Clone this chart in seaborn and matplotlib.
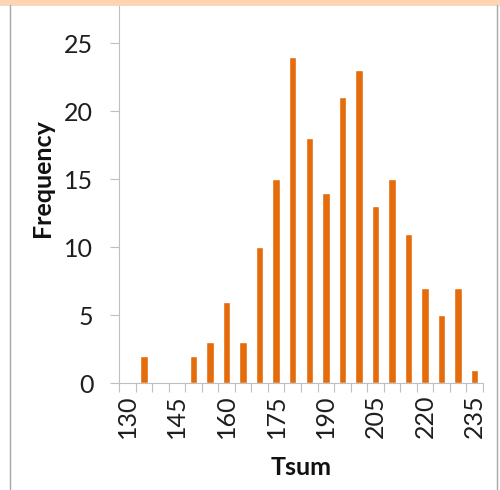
import matplotlib
matplotlib.use("Agg")
import matplotlib.pyplot as plt
import seaborn as sns
import pandas as pd
from matplotlib.lines import Line2D
from matplotlib.ticker import FixedLocator

categories = [130, 135, 140, 145, 150, 155, 160, 165, 170, 175, 180, 185,
              190, 195, 200, 205, 210, 215, 220, 225, 230, 235]
frequency = [0, 2, 0, 0, 2, 3, 6, 3, 10, 15, 24, 18,
             14, 21, 23, 13, 15, 11, 7, 5, 7, 1]
shown_labels = ["130", "145", "160", "175", "190", "205", "220", "235"]
y_ticks = [0, 5, 10, 15, 20, 25]

sns.set_theme(style="white")
plt.rcParams['font.family'] = ['Lato', 'DejaVu Sans']

df = pd.DataFrame({"Tsum": [str(c) for c in categories], "Frequency": frequency})

fig = plt.figure(figsize=(5.0, 4.9), dpi=100)
ax = fig.add_axes([0.238, 0.218, 0.728, 0.772])
sns.barplot(data=df, x="Tsum", y="Frequency", color="#E46C0A", width=0.45,
            saturation=1, ax=ax)

n = len(categories)
ax.set_xlim(-0.5, n - 0.5)
ax.set_ylim(0, 27.8)
ax.set_yticks(y_ticks)
ax.set_yticklabels([str(v) for v in y_ticks], fontsize=18, color="#1E1E1E")

major_pos = [categories.index(int(s)) for s in shown_labels]
ax.xaxis.set_major_locator(FixedLocator(major_pos))
ax.set_xticklabels(shown_labels, rotation=90, fontsize=18, color="#1E1E1E")
ax.xaxis.set_minor_locator(FixedLocator([i - 0.5 for i in range(n + 1)]))
ax.tick_params(axis="x", which="major", length=0, pad=8)
ax.tick_params(axis="x", which="minor", length=6.5, width=0.8, color="#BFBFBF", bottom=True)
ax.tick_params(axis="y", which="major", length=6.5, width=0.8, color="#BFBFBF", left=True, pad=12)

for s in ["top", "right"]:
    ax.spines[s].set_visible(False)
for s in ["left", "bottom"]:
    ax.spines[s].set_color("#BFBFBF")
    ax.spines[s].set_linewidth(0.8)

ax.set_xlabel("Tsum", fontsize=18, fontweight="bold", color="#111111")
ax.set_ylabel("Frequency", fontsize=18, fontweight="bold", color="#111111")
ax.yaxis.set_label_coords(-0.178, 0.542)
ax.xaxis.set_label_coords(0.5, -0.193)

# screenshot frame lines
fig.add_artist(Line2D([0, 1], [0.995, 0.995], transform=fig.transFigure,
                      color="#FDD5B5", linewidth=5))
fig.add_artist(Line2D([0.02, 0.02], [0, 0.99], transform=fig.transFigure,
                      color="#A6A6A6", linewidth=1))
fig.add_artist(Line2D([0.994, 0.994], [0, 0.99], transform=fig.transFigure,
                      color="#A6A6A6", linewidth=1))

fig.savefig("out.png", dpi=100)
